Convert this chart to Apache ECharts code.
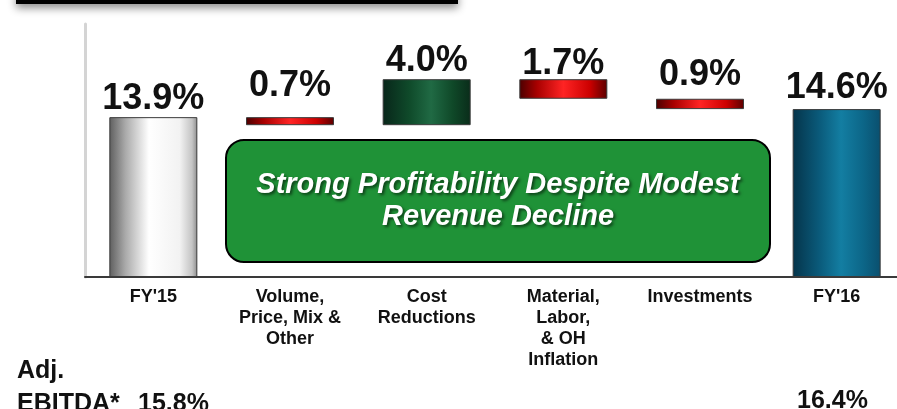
<!DOCTYPE html>
<html>
<head>
<meta charset="utf-8">
<script src="https://cdn.jsdelivr.net/npm/echarts@6/dist/echarts.min.js"></script>
<style>
    html, body { margin: 0; padding: 0; background: #fff; }
    #chart { width: 897px; height: 409px; }
</style>
</head>
<body>
<div id="chart"></div>
<script>
// 数据
var categories = ["FY'15", "Volume,\nPrice, Mix &\nOther", "Cost\nReductions", "Material,\nLabor,\n& OH\nInflation", "Investments", "FY'16"];
var changes = [13.9, -0.7, 4.0, -1.7, -0.9, 14.6];   // 首尾为合计, 中间为增减
var isTotal = [true, false, false, false, false, true];
var ebitdaLabels = ["15.8%", "16.4%"];
var boxText = "Strong Profitability Despite Modest\nRevenue Decline";

var font = "'Liberation Sans', Arial, Helvetica, sans-serif";

function grad(stops) {
    return new echarts.graphic.LinearGradient(0, 0, 1, 0, stops.map(function (s) {
        return { offset: s[0], color: s[1] };
    }));
}

// 柱子颜色 (横向渐变, 做出圆柱的感觉)
var greyFill = grad([[0, '#5e5e5e'], [0.18, '#a9a9a9'], [0.45, '#ffffff'], [0.8, '#f2f2f2'], [0.94, '#c4c4c4'], [1, '#8c8c8c']]);
var redFill = grad([[0, '#4a0000'], [0.2, '#a80000'], [0.5, '#ff2424'], [0.8, '#cc0000'], [1, '#5a0000']]);
var greenFill = grad([[0, '#08261a'], [0.3, '#0f4a2a'], [0.55, '#206a44'], [0.8, '#0f4828'], [1, '#0a2c1a']]);
var tealFill = grad([[0, '#05344a'], [0.3, '#0a5a7a'], [0.55, '#137ea2'], [0.8, '#0c6688'], [1, '#0a4f6e']]);

// 计算瀑布图的底座和高度
var baseData = [];
var barData = [];
var running = 0;
var labelLift = [0, 13, 0, -3, 6, 3];   // 标签离柱顶的距离
for (var i = 0; i < changes.length; i++) {
    var v = changes[i];
    var base, h, fill;
    if (isTotal[i]) {
        base = 0; h = v; running = v;
        fill = i === 0 ? greyFill : tealFill;
    } else if (v >= 0) {
        base = running; h = v; running = running + v;
        fill = greenFill;
    } else {
        running = running + v;
        base = running; h = -v;
        fill = redFill;
    }
    baseData.push(+base.toFixed(2));
    barData.push({
        value: +h.toFixed(2),
        itemStyle: { color: fill, borderColor: '#3a3a3a', borderWidth: 1 },
        label: { distance: labelLift[i] }
    });
}

var chart = echarts.init(document.getElementById('chart'));
var opt = {
    backgroundColor: '#fff',
    animation: false,
    grid: { left: 85, width: 820, top: 24, height: 253, outerBoundsMode: 'none', containLabel: false },
    xAxis: {
        type: 'category',
        data: categories,
        axisLine: { lineStyle: { color: '#3a3a3a', width: 2 } },
        axisTick: { show: false },
        axisLabel: {
            interval: 0,
            margin: 10,
            color: '#111',
            fontFamily: font,
            fontWeight: 'bold',
            fontSize: 18,
            lineHeight: 21
        }
    },
    yAxis: {
        type: 'value',
        min: 0,
        max: 22,
        axisLine: { show: true, lineStyle: { color: '#d4d4d4', width: 3 } },
        axisTick: { show: false },
        axisLabel: { show: false },
        splitLine: { show: false }
    },
    series: [
        {
            name: 'base',
            type: 'bar',
            stack: 'wf',
            barWidth: 88,
            silent: true,
            itemStyle: { color: 'rgba(0,0,0,0)' },
            data: baseData
        },
        {
            name: 'value',
            type: 'bar',
            stack: 'wf',
            barWidth: 88,
            label: {
                show: true,
                position: 'top',
                color: '#111',
                fontFamily: font,
                fontWeight: 'bold',
                fontSize: 36,
                formatter: function (p) {
                    return Math.abs(changes[p.dataIndex]).toFixed(1) + '%';
                }
            },
            data: barData
        }
    ],
    graphic: [
        // 顶部被截掉的标题框
        {
            type: 'rect',
            shape: { x: 16, y: -10, width: 442, height: 14 },
            style: { fill: '#000', shadowBlur: 8, shadowOffsetY: 4, shadowColor: 'rgba(0,0,0,0.45)' }
        },
        // 中间的绿色说明框
        {
            type: 'rect',
            shape: { x: 226, y: 140, width: 544, height: 122, r: 18 },
            style: { fill: '#1f9237', stroke: '#000', lineWidth: 2 }
        },
        {
            type: 'text',
            x: 498,
            y: 201,
            style: {
                text: boxText,
                fill: '#fff',
                font: 'italic bold 29px ' + font,
                align: 'center',
                verticalAlign: 'middle',
                lineHeight: 32,
                textShadowColor: 'rgba(0,0,0,0.55)',
                textShadowBlur: 3,
                textShadowOffsetX: 2,
                textShadowOffsetY: 2
            }
        },
        // 底部 EBITDA
        {
            type: 'text',
            x: 17,
            y: 359,
            style: { text: 'Adj.', fill: '#111', font: 'bold 25px ' + font, verticalAlign: 'top' }
        },
        {
            type: 'text',
            x: 17,
            y: 392,
            style: { text: 'EBITDA*', fill: '#111', font: 'bold 25px ' + font, verticalAlign: 'top' }
        },
        {
            type: 'text',
            x: 138,
            y: 392,
            style: { text: ebitdaLabels[0], fill: '#111', font: 'bold 25px ' + font, verticalAlign: 'top' }
        },
        {
            type: 'text',
            x: 797,
            y: 389,
            style: { text: ebitdaLabels[1], fill: '#111', font: 'bold 25px ' + font, verticalAlign: 'top' }
        }
    ]
};
chart.setOption(opt);
</script>
</body>
</html>
